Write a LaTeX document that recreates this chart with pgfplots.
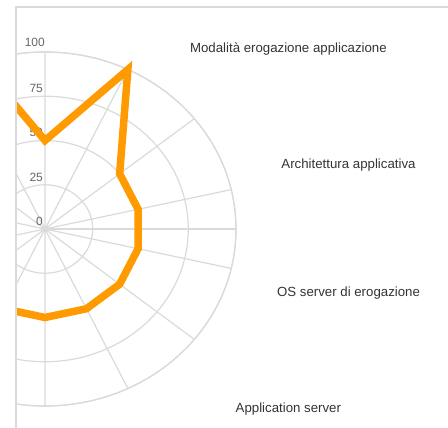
\documentclass[border=0pt]{standalone}
\usepackage{pgfplots}
\pgfplotsset{compat=1.18}
\usepgfplotslibrary{polar}
\usepackage{fontspec}
\setmainfont{Liberation Sans}
\definecolor{gridc}{HTML}{DADADA}
\definecolor{lineor}{HTML}{FF9A00}
\definecolor{labc}{HTML}{333333}
\definecolor{tickc}{HTML}{666666}
\begin{document}
\begin{tikzpicture}
\path[use as bounding box] (0,0) rectangle (448bp,428bp);
\begin{scope}
\clip (16bp,0) rectangle (448bp,421bp);
\begin{polaraxis}[
  at={(45bp,199bp)}, anchor=origin,
  scale only axis, width=382bp, height=354bp, scale mode=stretch to fill,
  xmin=0, xmax=360, ymin=0, ymax=100,
  xtick={12.8571,38.5714,64.2857,90,115.7143,141.4286,167.1429,192.8571,218.5714,244.2857,270,295.7143,321.4286,347.1429},
  ytick={0,25,50,75,100},
  xticklabels={}, yticklabels={},
  major tick length=0pt,
  tick style={draw=none},
  grid=major,
  major grid style={draw=gridc, line width=1.2bp},
  axis line style={draw=gridc, line width=1.2bp},
  clip=false,
]
\node[font=\fontsize{12}{12}\selectfont, text=tickc, anchor=base east, inner sep=0pt] at (axis cs:90,100) [xshift=0bp, yshift=5bp] {100};
\node[font=\fontsize{12}{12}\selectfont, text=tickc, anchor=base east, inner sep=0pt] at (axis cs:90,75) [xshift=-2bp, yshift=3.5bp] {75};
\node[font=\fontsize{12}{12}\selectfont, text=tickc, anchor=base east, inner sep=0pt] at (axis cs:90,50) [xshift=-2bp, yshift=3.5bp] {50};
\node[font=\fontsize{12}{12}\selectfont, text=tickc, anchor=base east, inner sep=0pt] at (axis cs:90,25) [xshift=-2bp, yshift=3.5bp] {25};
\node[font=\fontsize{12}{12}\selectfont, text=tickc, anchor=base east, inner sep=0pt] at (axis cs:90,0) [xshift=-2bp, yshift=3.5bp] {0};
\addplot[draw=lineor, line width=7.5bp, line join=miter, mark=none] coordinates {
  (218.5714,50) (244.2857,50) (270,50) (295.7143,50) (321.4286,50) (347.1429,50)
  (12.8571,50) (38.5714,50) (64.2857,100) (90,50) (115.7143,145)
  (141.4286,50) (167.1429,50) (192.8571,50) (218.5714,50)
};
\node[font=\fontsize{13.3}{13.3}\selectfont, text=labc] at (axis cs:38.5714,163) {Modalità erogazione applicazione};
\node[font=\fontsize{13.3}{13.3}\selectfont, text=labc] at (axis cs:12.8571,163) {Architettura applicativa};
\node[font=\fontsize{13.3}{13.3}\selectfont, text=labc] at (axis cs:-12.8571,163) {OS server di erogazione};
\node[font=\fontsize{13.3}{13.3}\selectfont, text=labc] at (axis cs:-38.5714,163) {Application server};
\end{polaraxis}
\end{scope}
\draw[gridc, line width=1.5bp] (16bp,0) -- (16bp,421bp) -- (448bp,421bp);
\end{tikzpicture}
\end{document}
